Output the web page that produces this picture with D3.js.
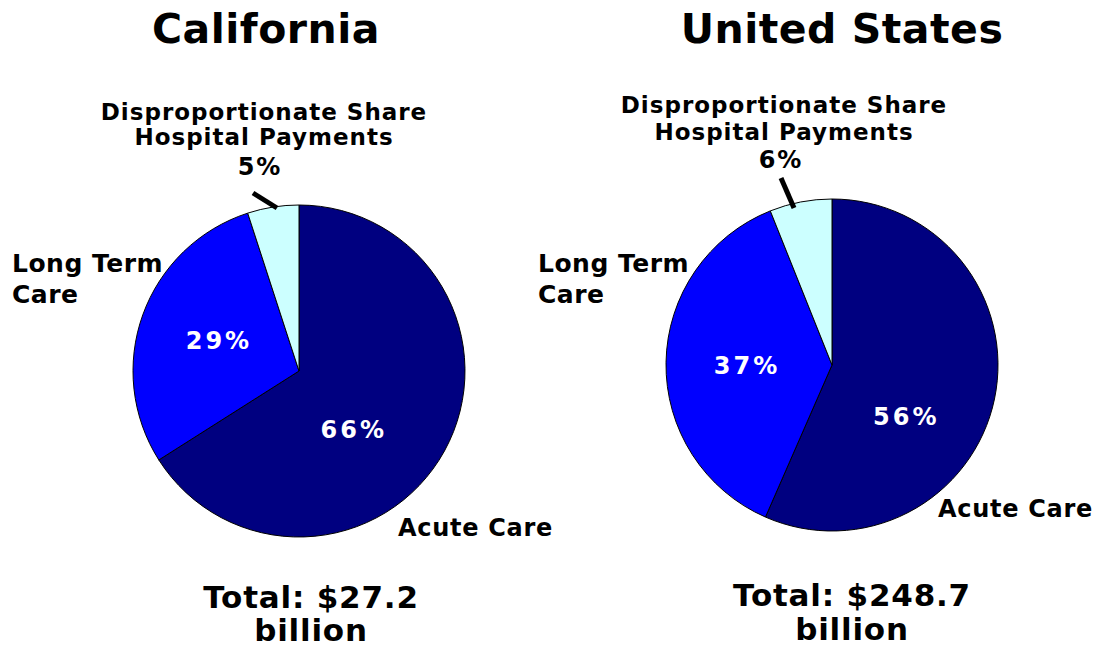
<!DOCTYPE html>
<html>
<head>
<meta charset="utf-8">
<script src="https://cdn.jsdelivr.net/npm/d3@7"></script>
<style>
  body { margin: 0; background: #fff; }
  text { font-family: "DejaVu Sans", Verdana, sans-serif; font-weight: bold; }
</style>
</head>
<body>
<div id="chart"></div>
<script>
// Data
var categories = ['Acute Care', 'Long Term Care', 'Disproportionate Share Hospital Payments'];
var californiaValues = [66, 29, 5];
var usValues = [56, 37, 6];
var regions = ['California', 'United States'];
var totals = ['$27.2', '$248.7'];

var width = 1097;
var height = 650;
var radius = 166;
var color = d3.scaleOrdinal().domain(categories).range(['#000080', '#0000ff', '#ccffff']);

var svg = d3.select('#chart')
    .append('svg')
    .attr('width', width)
    .attr('height', height);

// layout of each panel (centre, labels placement)
var panels = [{
    name: regions[0], values: californiaValues, total: totals[0],
    cx: 299, cy: 371, titleX: 266, totalX: 311,
    pctNudge: [[-18, 18], [-2, -3]],
    dsh: { x: 264, pctX: 260, ys: [120, 145, 175], leader: [[253, 193], [277, 208]] },
    ltc: { x: 12, y: 272 },
    acute: { x: 398, y: 536 },
    totalY: [608, 641]
}, {
    name: regions[1], values: usValues, total: totals[1],
    cx: 832, cy: 365, titleX: 842, totalX: 852,
    pctNudge: [[-7, 34], [-2, 2]],
    dsh: { x: 784, pctX: 781, ys: [113, 140, 168], leader: [[781, 178], [794, 208]] },
    ltc: { x: 538, y: 272 },
    acute: { x: 938, y: 517 },
    totalY: [606, 640]
}];

var pie = d3.pie().sort(null).value(function(d) { return d.value; });
var arc = d3.arc().innerRadius(0).outerRadius(radius);
var labelArc = d3.arc().innerRadius(radius * 0.5).outerRadius(radius * 0.5);

panels.forEach(function(p) {
    var data = categories.map(function(c, i) { return { label: c, value: p.values[i] }; });

    // title
    svg.append('text')
        .attr('x', p.titleX)
        .attr('y', 43)
        .attr('text-anchor', 'middle')
        .style('font-size', '41px')
        .style('letter-spacing', '0.5px')
        .text(p.name);

    var g = svg.append('g')
        .attr('transform', 'translate(' + p.cx + ',' + p.cy + ')');

    var slices = pie(data);

    g.selectAll('path')
        .data(slices)
        .enter()
        .append('path')
        .attr('d', arc)
        .attr('fill', function(d) { return color(d.data.label); })
        .attr('stroke', '#000')
        .attr('stroke-width', 1);

    // white percent labels on the two large slices
    g.selectAll('text.pct')
        .data(slices.slice(0, 2))
        .enter()
        .append('text')
        .attr('class', 'pct')
        .attr('transform', function(d, i) {
            var c = labelArc.centroid(d);
            return 'translate(' + (c[0] + p.pctNudge[i][0]) + ',' + (c[1] + p.pctNudge[i][1]) + ')';
        })
        .attr('dy', '0.36em')
        .attr('text-anchor', 'middle')
        .attr('fill', '#fff')
        .style('font-size', '24px')
        .style('letter-spacing', '3px')
        .text(function(d) { return d.data.value + '%'; });

    // DSH label with leader line
    var dsh = svg.append('text')
        .attr('text-anchor', 'middle')
        .style('font-size', '23px')
        .style('letter-spacing', '1px');
    ['Disproportionate Share', 'Hospital Payments', p.values[2] + '%'].forEach(function(t, i) {
        dsh.append('tspan')
            .attr('x', i === 2 ? p.dsh.pctX : p.dsh.x)
            .attr('y', p.dsh.ys[i])
            .style('font-size', i === 2 ? '24px' : '23px')
            .style('letter-spacing', i === 2 ? '2px' : '1px')
            .text(t);
    });
    svg.append('line')
        .attr('x1', p.dsh.leader[0][0]).attr('y1', p.dsh.leader[0][1])
        .attr('x2', p.dsh.leader[1][0]).attr('y2', p.dsh.leader[1][1])
        .attr('stroke', '#000')
        .attr('stroke-width', 5);

    // Long term care label
    var ltc = svg.append('text').style('font-size', '25px').style('letter-spacing', '0.5px');
    ['Long Term', 'Care'].forEach(function(t, i) {
        ltc.append('tspan').attr('x', p.ltc.x).attr('y', p.ltc.y + i * 31).text(t);
    });

    // Acute care label
    svg.append('text')
        .attr('x', p.acute.x)
        .attr('y', p.acute.y)
        .style('font-size', '24px')
        .style('letter-spacing', '0.7px')
        .text('Acute Care');

    // total
    var tot = svg.append('text')
        .attr('text-anchor', 'middle')
        .style('font-size', '31px')
        .style('letter-spacing', '0.8px');
    ['Total: ' + p.total, 'billion'].forEach(function(t, i) {
        tot.append('tspan').attr('x', p.totalX).attr('y', p.totalY[i]).text(t);
    });
});
</script>
</body>
</html>
